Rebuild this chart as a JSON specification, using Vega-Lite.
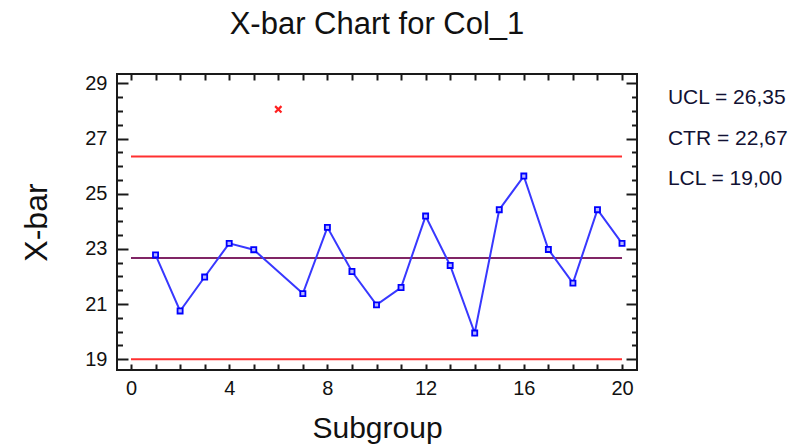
{
  "$schema": "https://vega.github.io/schema/vega-lite/v6.json",
  "width": 520,
  "height": 296,
  "autosize": "none",
  "padding": {"left": 117, "top": 74, "right": 168, "bottom": 77},
  "background": "white",
  "title": {
    "text": "X-bar Chart for Col_1",
    "font": "Liberation Sans",
    "fontSize": 31,
    "fontWeight": "normal",
    "color": "#111111",
    "anchor": "middle",
    "baseline": "alphabetic",
    "offset": 8
  },
  "config": {
    "view": {"stroke": "#1a1a1a", "strokeWidth": 2},
    "axis": {
      "grid": false,
      "domain": false,
      "labelFont": "Liberation Sans",
      "labelFontSize": 20,
      "labelColor": "#111111",
      "titleFont": "Liberation Sans",
      "titleFontWeight": "normal",
      "titleColor": "#111111",
      "tickColor": "#1a1a1a",
      "tickWidth": 2
    }
  },
  "datasets": {
    "xbar": [
      {"sub": 1, "xbar": 22.78, "status": "in"},
      {"sub": 2, "xbar": 20.75, "status": "in"},
      {"sub": 3, "xbar": 21.98, "status": "in"},
      {"sub": 4, "xbar": 23.2, "status": "in"},
      {"sub": 5, "xbar": 22.97, "status": "in"},
      {"sub": 6, "xbar": 28.06, "status": "out"},
      {"sub": 7, "xbar": 21.38, "status": "in"},
      {"sub": 8, "xbar": 23.78, "status": "in"},
      {"sub": 9, "xbar": 22.18, "status": "in"},
      {"sub": 10, "xbar": 20.97, "status": "in"},
      {"sub": 11, "xbar": 21.6, "status": "in"},
      {"sub": 12, "xbar": 24.19, "status": "in"},
      {"sub": 13, "xbar": 22.4, "status": "in"},
      {"sub": 14, "xbar": 19.95, "status": "in"},
      {"sub": 15, "xbar": 24.42, "status": "in"},
      {"sub": 16, "xbar": 25.64, "status": "in"},
      {"sub": 17, "xbar": 22.98, "status": "in"},
      {"sub": 18, "xbar": 21.76, "status": "in"},
      {"sub": 19, "xbar": 24.42, "status": "in"},
      {"sub": 20, "xbar": 23.2, "status": "in"}
    ],
    "limits": [
      {"stat": "UCL", "value": 26.35, "label": "UCL = 26,35"},
      {"stat": "CTR", "value": 22.67, "label": "CTR = 22,67"},
      {"stat": "LCL", "value": 19.0, "label": "LCL = 19,00"}
    ]
  },
  "layer": [
    {
      "layer": [
        {
          "data": {"name": "limits"},
          "mark": {"type": "rule", "strokeWidth": 2},
          "encoding": {
            "x": {
              "datum": 0,
              "type": "quantitative",
              "scale": {"domain": [-0.57, 20.61], "nice": false, "zero": false},
              "axis": {
                "orient": "bottom",
                "title": null,
                "labels": false,
                "values": [0,1,2,3,4,5,6,7,8,9,10,11,12,13,14,15,16,17,18,19,20],
                "tickSize": -6
              }
            },
            "x2": {"datum": 20},
            "y": {
              "field": "value",
              "type": "quantitative",
              "scale": {"domain": [18.61, 29.34], "nice": false, "zero": false},
              "axis": {
                "orient": "left",
                "title": null,
                "labels": false,
                "values": [19,19.5,20,20.5,21,21.5,22,22.5,23,23.5,24,24.5,25,25.5,26,26.5,27,27.5,28,28.5,29],
                "tickSize": {"condition": {"test": "datum.value % 2 === 1", "value": -11}, "value": -5.5}
              }
            },
            "color": {
              "field": "stat",
              "type": "nominal",
              "scale": {"domain": ["UCL", "CTR", "LCL"], "range": ["#ff3030", "#802565", "#ff3030"]},
              "legend": null
            }
          }
        },
        {
          "data": {"name": "xbar"},
          "transform": [{"filter": "datum.status === 'in'"}],
          "mark": {"type": "line", "color": "#3838ff", "strokeWidth": 2},
          "encoding": {
            "x": {
              "field": "sub",
              "type": "quantitative",
              "axis": {
                "orient": "top",
                "title": null,
                "labels": false,
                "values": [0,1,2,3,4,5,6,7,8,9,10,11,12,13,14,15,16,17,18,19,20],
                "tickSize": -6
              }
            },
            "y": {
              "field": "xbar",
              "type": "quantitative",
              "axis": {
                "orient": "right",
                "title": null,
                "labels": false,
                "values": [19,19.5,20,20.5,21,21.5,22,22.5,23,23.5,24,24.5,25,25.5,26,26.5,27,27.5,28,28.5,29],
                "tickSize": {"condition": {"test": "datum.value % 2 === 1", "value": -11}, "value": -5.5}
              }
            }
          }
        },
        {
          "data": {"name": "xbar"},
          "transform": [{"filter": "datum.status === 'in'"}],
          "mark": {"type": "point", "shape": "square", "size": 26, "filled": false, "fill": "#b8b8ff", "stroke": "#0000ff", "strokeWidth": 1.8, "opacity": 1},
          "encoding": {
            "x": {
              "field": "sub",
              "type": "quantitative",
              "axis": {
                "orient": "bottom",
                "title": "Subgroup",
                "titleFontSize": 30,
                "titlePadding": 15,
                "values": [0, 4, 8, 12, 16, 20],
                "format": "d",
                "ticks": false,
                "labelPadding": 8
              }
            },
            "y": {
              "field": "xbar",
              "type": "quantitative",
              "axis": {
                "orient": "left",
                "title": "X-bar",
                "titleFontSize": 32,
                "titlePadding": 31,
                "values": [19, 21, 23, 25, 27, 29],
                "format": "d",
                "ticks": false,
                "labelPadding": 10
              }
            }
          }
        },
        {
          "data": {"name": "xbar"},
          "transform": [{"filter": "datum.status === 'out'"}],
          "mark": {"type": "point", "shape": "M-1,-1L1,1M1,-1L-1,1", "size": 40, "filled": false, "stroke": "#ff2020", "strokeWidth": 2.2, "opacity": 1},
          "encoding": {
            "x": {"field": "sub", "type": "quantitative", "axis": null},
            "y": {"field": "xbar", "type": "quantitative", "axis": null}
          }
        }
      ],
      "resolve": {"axis": {"x": "independent", "y": "independent"}}
    },
    {
      "data": {"name": "limits"},
      "mark": {"type": "text", "align": "left", "baseline": "middle", "font": "Liberation Sans", "fontSize": 21, "color": "#111133"},
      "encoding": {
        "x": {"datum": 21.87, "type": "quantitative", "axis": null},
        "y": {
          "field": "stat",
          "type": "nominal",
          "scale": {"type": "point", "domain": ["UCL", "CTR", "LCL"], "range": [24, 105], "padding": 0},
          "axis": null
        },
        "text": {"field": "label"}
      }
    }
  ],
  "resolve": {"scale": {"y": "independent"}, "axis": {"y": "independent"}}
}
